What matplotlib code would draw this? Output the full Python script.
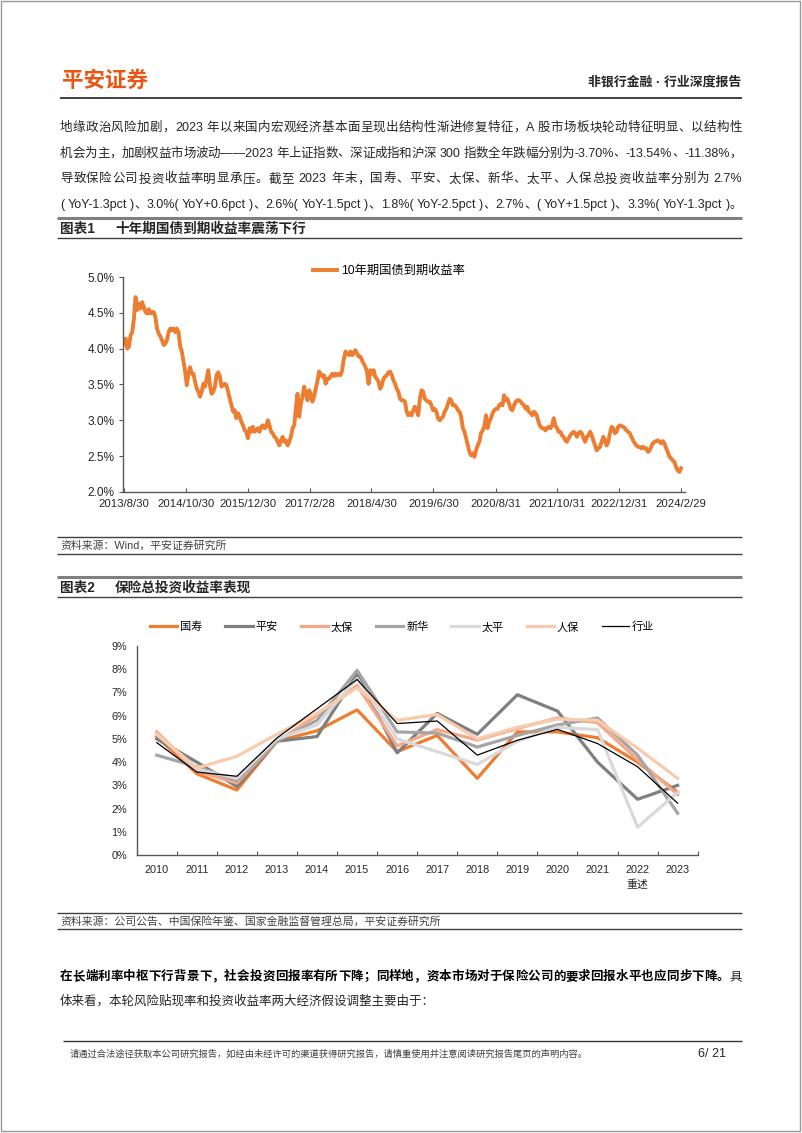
import matplotlib.pyplot as plt
from matplotlib.lines import Line2D
from matplotlib.patches import Rectangle
import numpy as np
import pandas as pd

plt.rcParams['font.family'] = ['Liberation Sans', 'Noto Sans CJK SC']

# ---- data: 10y government bond yield (%), evenly sampled 2013/8/30 -> 2024/2/29
yield_10y = [
    4.07, 4.14, 4.00, 4.03, 4.19, 4.23, 4.42, 4.72, 4.54, 4.63,
    4.56, 4.65, 4.58, 4.51, 4.49, 4.55, 4.49, 4.51, 4.51, 4.44,
    4.28, 4.21, 4.17, 4.12, 4.05, 4.07, 4.12, 4.23, 4.28, 4.26,
    4.28, 4.23, 4.28, 4.23, 4.03, 3.96, 3.82, 3.68, 3.49, 3.65,
    3.74, 3.65, 3.65, 3.54, 3.44, 3.40, 3.33, 3.40, 3.51, 3.47,
    3.58, 3.70, 3.49, 3.37, 3.40, 3.47, 3.63, 3.67, 3.61, 3.47,
    3.49, 3.51, 3.49, 3.40, 3.30, 3.21, 3.12, 3.14, 3.03, 3.10,
    3.05, 2.98, 2.93, 2.86, 2.84, 2.75, 2.89, 2.84, 2.91, 2.84,
    2.86, 2.89, 2.84, 2.91, 2.93,
    2.89, 2.91, 3.00, 2.93, 2.84, 2.82, 2.77, 2.75, 2.70, 2.65,
    2.72, 2.77, 2.70, 2.72, 2.65, 2.70, 2.77, 2.89, 2.93, 3.17,
    3.37, 3.05, 3.23, 3.33, 3.47, 3.37, 3.28, 3.42, 3.37, 3.26,
    3.33, 3.44, 3.54, 3.68, 3.65, 3.61, 3.63, 3.51, 3.58, 3.58,
    3.61, 3.65, 3.62, 3.65, 3.63, 3.65, 3.63, 3.70, 3.86, 3.96,
    3.93, 3.91, 3.96, 3.91, 3.93, 3.98, 3.93, 3.89, 3.89, 3.84,
    3.79, 3.75, 3.68, 3.51, 3.70, 3.65, 3.70, 3.61, 3.58, 3.54,
    3.44, 3.49, 3.58, 3.61, 3.63, 3.67, 3.68, 3.63, 3.56, 3.51,
    3.44, 3.40, 3.30, 3.28, 3.28,
    3.26, 3.12, 3.07, 3.10, 3.07, 3.14, 3.19, 3.14, 3.07, 3.30,
    3.42, 3.40, 3.30, 3.28, 3.26, 3.26, 3.21, 3.14, 3.16, 3.12,
    3.03, 3.00, 3.03, 3.05, 3.12, 3.16, 3.23, 3.30, 3.28, 3.21,
    3.21, 3.19, 3.14, 3.12, 3.05, 2.89, 2.84, 2.75, 2.65, 2.56,
    2.51, 2.54, 2.49, 2.58, 2.65, 2.70, 2.82, 2.86, 2.91, 3.07,
    2.89, 2.98, 3.03, 3.10, 3.14, 3.16, 3.16, 3.21, 3.23, 3.21,
    3.35, 3.28, 3.30, 3.23, 3.16, 3.14, 3.21, 3.26, 3.28, 3.28,
    3.26, 3.23, 3.21, 3.16, 3.19, 3.12, 3.10, 3.07, 3.12, 3.10,
    3.05, 2.96, 2.91, 2.89,
    2.89, 2.86, 2.89, 2.91, 2.89, 2.93, 3.03, 2.93, 2.89, 2.84,
    2.84, 2.79, 2.77, 2.72, 2.70, 2.75, 2.79, 2.82, 2.84, 2.82,
    2.77, 2.82, 2.84, 2.82, 2.75, 2.70, 2.77, 2.79, 2.84, 2.79,
    2.72, 2.65, 2.58, 2.61, 2.63, 2.70, 2.77, 2.72, 2.65, 2.70,
    2.82, 2.91, 2.89, 2.82, 2.84, 2.91, 2.93, 2.92, 2.91, 2.89,
    2.86, 2.84, 2.82, 2.77, 2.72, 2.68, 2.65, 2.63, 2.63, 2.61,
    2.63, 2.61, 2.61, 2.56, 2.58, 2.63, 2.68, 2.70, 2.71, 2.72,
    2.70, 2.68, 2.71, 2.68, 2.61, 2.56, 2.49, 2.47, 2.44, 2.42,
    2.35, 2.30, 2.28, 2.33,
]
yield_start, yield_end = "2013-08-30", "2024-02-29"
yield_ticks = ["2013-08-30", "2014-10-30", "2015-12-30", "2017-02-28", "2018-04-30",
               "2019-06-30", "2020-08-31", "2021-10-31", "2022-12-31", "2024-02-29"]

# ---- data: total investment yield (%) by insurer
years = ["2010", "2011", "2012", "2013", "2014", "2015", "2016",
         "2017", "2018", "2019", "2020", "2021", "2022\n重述", "2023"]
guoshou = [5.1, 3.5, 2.8, 4.9, 5.35, 6.25, 4.45, 5.15, 3.3, 5.3, 5.3, 5.05, 4.0, 2.7]
pingan = [5.0, 4.0, 2.95, 4.9, 5.1, 7.8, 4.4, 6.1, 5.2, 6.9, 6.2, 4.0, 2.4, 3.0]
taibao = [5.3, 3.6, 3.1, 4.9, 6.0, 7.3, 4.7, 5.4, 4.95, 5.45, 5.9, 5.7, 4.1, 2.6]
xinhua = [4.3, 3.8, 3.2, 4.9, 5.8, 7.95, 5.3, 5.25, 4.65, 5.15, 5.6, 5.9, 4.3, 1.8]
taiping = [5.2, 3.7, 3.3, 5.0, 5.6, 7.6, 5.0, 4.45, 3.9, 4.9, 5.5, 5.4, 1.2, 2.7]
renbao = [5.2, 3.75, 4.25, 5.2, 6.1, 7.2, 5.8, 6.05, 5.0, 5.5, 5.85, 5.8, 4.6, 3.3]
hangye = [4.84, 3.57, 3.39, 5.04, 6.3, 7.56, 5.66, 5.77, 4.3, 4.94, 5.41, 4.8, 3.8, 2.23]
series_names = ["国寿", "平安", "太保", "新华", "太平", "人保", "行业"]

para1 = [
    "地缘政治风险加剧，2023 年以来国内宏观经济基本面呈现出结构性渐进修复特征，A 股市场板块轮动特征明显、以结构性",
    "机会为主，加剧权益市场波动——2023 年上证指数、深证成指和沪深 300 指数全年跌幅分别为-3.70%、-13.54%、-11.38%，",
    "导致保险公司投资收益率明显承压。截至 2023 年末，国寿、平安、太保、新华、太平、人保总投资收益率分别为 2.7%",
    "( YoY-1.3pct )、3.0%( YoY+0.6pct )、2.6%( YoY-1.5pct )、1.8%( YoY-2.5pct )、2.7%、( YoY+1.5pct )、3.3%( YoY-1.3pct )。",
]
para2_bold = "在长端利率中枢下行背景下，社会投资回报率有所下降；同样地，资本市场对于保险公司的要求回报水平也应同步下降。"
para2_rest = "具"
para2_line2 = "体来看，本轮风险贴现率和投资收益率两大经济假设调整主要由于："

W, H = 802, 1133
TXT = "#262626"
ORANGE = "#ED7D31"
BODY_FS = 9.0


def fx(x):
    return x / W


def fy(y):
    return 1 - y / H


def hline(fig, x0, x1, y, color, lw):
    fig.add_artist(Line2D([fx(x0), fx(x1)], [fy(y), fy(y)], transform=fig.transFigure,
                          color=color, lw=lw, solid_capstyle='butt'))


def is_cjk(ch):
    return len(ch) == 1 and ord(ch) >= 0x2E80


def tokenize(s, weight):
    toks, buf = [], ""
    for ch in s:
        if is_cjk(ch) or ch == " ":
            if buf:
                toks.append((buf, weight))
                buf = ""
            toks.append((ch, weight))
        else:
            buf += ch
    if buf:
        toks.append((buf, weight))
    return toks


def text_width(fig, renderer, s, fs, weight):
    t = fig.text(0, 0, s, fontsize=fs, fontweight=weight)
    w = t.get_window_extent(renderer).width
    t.remove()
    return w


def justified(fig, parts, x0, x1, y, fs, color):
    # parts: list of (string, weight); spreads glyphs evenly between x0 and x1 (pixels)
    renderer = fig.canvas.get_renderer()
    toks = []
    for s, wgt in parts:
        toks += tokenize(s, wgt)
    em = {w: text_width(fig, renderer, "国", fs, w) for _, w in parts}
    space = text_width(fig, renderer, "a a", fs, "normal") - text_width(fig, renderer, "aa", fs, "normal")
    widths = []
    for s, wgt in toks:
        if s == " ":
            widths.append(space)
        elif is_cjk(s):
            widths.append(em[wgt])
        else:
            widths.append(text_width(fig, renderer, s, fs, wgt))
    gap = (x1 - x0 - sum(widths)) / max(len(toks) - 1, 1)
    x = x0
    for (s, wgt), w in zip(toks, widths):
        if s != " ":
            c = "black" if wgt == "bold" else color
            fig.text(fx(x), fy(y), s, fontsize=fs, fontweight=wgt, color=c, va='center', ha='left')
        x += w + gap


fig = plt.figure(figsize=(W / 100, H / 100), dpi=100)

# page frame
fig.add_artist(Rectangle((fx(1), fy(1131)), fx(799), 1130 / H, transform=fig.transFigure,
                         fill=False, edgecolor="#9a9a9a", lw=1))

# header
fig.text(fx(62), fy(81), "平安证券", fontsize=15.5, fontweight='bold', color="#E95513", va='center')
fig.text(fx(741), fy(82), "非银行金融 · 行业深度报告", fontsize=9.3, fontweight='bold', color=TXT,
         ha='right', va='center')
hline(fig, 60, 742, 98, "#333333", 1.3)

for i, line in enumerate(para1):
    justified(fig, [(line, "normal")], 60, 742, 128 + i * 25.7, BODY_FS, TXT)

# ---- figure 1
hline(fig, 57, 742, 218, "#7f7f7f", 2.2)
fig.text(fx(60), fy(229), "图表1", fontsize=9.8, fontweight='bold', color=TXT, va='center')
fig.text(fx(115), fy(229), "十年期国债到期收益率震荡下行", fontsize=9.8, fontweight='bold', color=TXT, va='center')
hline(fig, 57, 742, 237.5, "#404040", 1.0)

ax1 = fig.add_axes([fx(123), fy(492), fx(685) - fx(123), (492 - 277) / H])
dates = pd.date_range(yield_start, yield_end, periods=len(yield_10y))
ax1.plot(dates, yield_10y, color=ORANGE, lw=2.8, label="10年期国债到期收益率")
t0, t1 = pd.Timestamp(yield_start), pd.Timestamp(yield_end)
day_px = (t1 - t0).days / (681 - 124)
ax1.set_xlim(t0 - pd.Timedelta(days=day_px * 1), t1 + pd.Timedelta(days=day_px * 4))
ax1.set_ylim(2.0, 5.0)
ax1.set_yticks(np.arange(2.0, 5.01, 0.5))
ax1.set_yticklabels([f"{v:.1f}%" for v in np.arange(2.0, 5.01, 0.5)], fontsize=8.6, color=TXT)
tick_dates = pd.to_datetime(yield_ticks)
ax1.set_xticks(tick_dates)
ax1.set_xticklabels([f"{d.year}/{d.month}/{d.day}" for d in tick_dates], fontsize=8.2, color=TXT)
for s in ["top", "right"]:
    ax1.spines[s].set_visible(False)
for s in ["left", "bottom"]:
    ax1.spines[s].set_color("#595959")
    ax1.spines[s].set_linewidth(1.0)
ax1.tick_params(axis='y', direction='out', length=3, width=0.8, color="#595959", pad=3)
ax1.tick_params(axis='x', direction='in', length=3, width=0.8, color="#595959", pad=5)
ax1.legend(loc='center left', bbox_to_anchor=(fx(313), fy(271)), bbox_transform=fig.transFigure,
           frameon=False, fontsize=8.8, handlelength=2.0, handletextpad=0.3, borderpad=0,
           borderaxespad=0)

hline(fig, 57, 742, 537, "#404040", 1.0)
fig.text(fx(60), fy(545.5), "资料来源：Wind，平安证券研究所", fontsize=7.8, color="#404040", va='center')
hline(fig, 57, 742, 553.5, "#404040", 1.0)

# ---- figure 2
hline(fig, 57, 742, 577, "#7f7f7f", 2.2)
fig.text(fx(60), fy(588), "图表2", fontsize=9.8, fontweight='bold', color=TXT, va='center')
fig.text(fx(115), fy(588), "保险总投资收益率表现", fontsize=9.8, fontweight='bold', color=TXT, va='center')
hline(fig, 57, 742, 597, "#404040", 1.0)

ax2 = fig.add_axes([fx(136.7), fy(855), fx(697.7) - fx(136.7), (855 - 646) / H])
x = np.arange(len(years))
styles = [
    (guoshou, ORANGE, 2.3),
    (pingan, "#7F7F7F", 2.3),
    (taibao, "#F4A886", 2.3),
    (xinhua, "#A5A5A5", 2.3),
    (taiping, "#D9D9D9", 2.3),
    (renbao, "#F8CBAD", 2.3),
    (hangye, "black", 0.9),
]
for name, (vals, color, lw) in zip(series_names, styles):
    ax2.plot(x, vals, color=color, lw=lw, label=name)
ax2.set_xlim(-0.5, len(years) - 0.5)
ax2.set_ylim(0, 9)
ax2.set_yticks(range(0, 10))
ax2.set_yticklabels([f"{v}%" for v in range(0, 10)], fontsize=7.8, color=TXT)
ax2.set_xticks(np.arange(-0.5, len(years), 1))
ax2.set_xticklabels([])
ax2.set_xticks(x, minor=True)
ax2.set_xticklabels(years, minor=True, fontsize=7.8, color=TXT, linespacing=1.6, va='top')
ax2.tick_params(axis='x', which='minor', length=0, pad=7)
ax2.tick_params(axis='x', which='major', direction='in', length=3, width=0.8, color="#595959")
ax2.tick_params(axis='y', direction='out', length=0, pad=7)
for s in ["top", "right"]:
    ax2.spines[s].set_visible(False)
for s in ["left", "bottom"]:
    ax2.spines[s].set_color("#595959")
    ax2.spines[s].set_linewidth(1.0)
ax2.legend(loc='center left', bbox_to_anchor=(fx(150), fy(627)), bbox_transform=fig.transFigure,
           ncol=7, frameon=False, fontsize=8.0, handlelength=2.45, handletextpad=0.25,
           columnspacing=2.08, borderpad=0, borderaxespad=0)

hline(fig, 57, 742, 913, "#404040", 1.0)
fig.text(fx(60), fy(921.5), "资料来源：公司公告、中国保险年鉴、国家金融监督管理总局，平安证券研究所",
         fontsize=7.8, color="#404040", va='center')
hline(fig, 57, 742, 929, "#404040", 1.0)

# ---- closing paragraph
justified(fig, [(para2_bold, "bold"), (para2_rest, "normal")], 60, 742, 977, BODY_FS, TXT)
fig.text(fx(60), fy(1001), para2_line2, fontsize=BODY_FS, color=TXT, va='center')

# footer
hline(fig, 63, 742, 1041, "#333333", 1.0)
fig.text(fx(70), fy(1054), "请通过合法途径获取本公司研究报告，如经由未经许可的渠道获得研究报告，请慎重使用并注意阅读研究报告尾页的声明内容。",
         fontsize=6.7, color="#404040", va='center')
fig.text(fx(726), fy(1054), "6/ 21", fontsize=9, color=TXT, va='center', ha='right')

fig.savefig("out.png", dpi=100)
